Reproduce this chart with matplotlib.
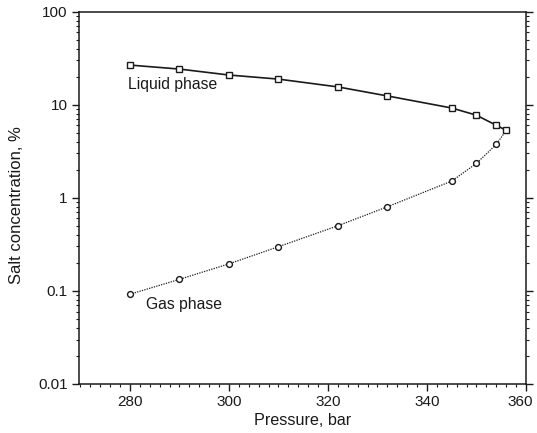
import matplotlib
matplotlib.use("Agg")

import matplotlib.pyplot as plt
import matplotlib.transforms as mtransforms
from matplotlib.ticker import LogLocator, MultipleLocator, FixedLocator, NullFormatter

plt.rcParams["font.family"] = ["Liberation Sans", "DejaVu Sans"]

# liquid phase (squares, solid line)
liquid_p = [280, 290, 300, 310, 322, 332, 345, 350, 354, 356]
liquid_c = [26.6, 24.1, 20.8, 18.8, 15.5, 12.4, 9.2, 7.7, 6.0, 5.3]

# gas phase (circles, dotted line) - meets the liquid curve at 356 bar
gas_p = [280, 290, 300, 310, 322, 332, 345, 350, 354, 356]
gas_c = [0.092, 0.133, 0.195, 0.298, 0.50, 0.80, 1.51, 2.34, 3.74, 5.3]

y_ticks = [0.01, 0.1, 1, 10, 100]
y_tick_labels = ["0.01", "0.1", "1", "10", "100"]
x_ticks = [280, 300, 320, 340, 360]

ink = "#1a1a1a"

fig = plt.figure(figsize=(5.37, 4.33), dpi=100)
ax = fig.add_axes([0.147, 0.1132, 0.8325, 0.8602])

ax.plot(gas_p, gas_c, color=ink, lw=0.9, ls=(0, (1, 1)),
        marker="o", markersize=4.2, markerfacecolor="white",
        markeredgecolor=ink, markeredgewidth=1.0,
        markevery=list(range(len(gas_p) - 1)), zorder=2)
ax.plot(liquid_p, liquid_c, color=ink, lw=1.2,
        marker="s", markersize=5, markerfacecolor="white",
        markeredgecolor=ink, markeredgewidth=1.0, zorder=3)

ax.set_yscale("log")
ax.set_xlim(269.7, 360)
ax.set_ylim(0.01, 100)

ax.xaxis.set_major_locator(FixedLocator(x_ticks))
ax.xaxis.set_minor_locator(MultipleLocator(2))
ax.yaxis.set_major_locator(FixedLocator(y_ticks))
ax.set_yticklabels(y_tick_labels)
ax.yaxis.set_minor_locator(LogLocator(base=10, subs=range(2, 10), numticks=20))
ax.yaxis.set_minor_formatter(NullFormatter())

ax.tick_params(axis="both", which="major", direction="out", length=5, width=1.0,
               color=ink, labelcolor=ink, labelsize=11, pad=3)
ax.tick_params(axis="both", which="minor", direction="out", length=2.5, width=0.8, color=ink)
ax.tick_params(axis="y", which="both", right=True, left=True)
ax.tick_params(axis="x", which="both", top=False)

# nudge the last x label so it stays inside the figure
last = ax.get_xticklabels()[-1]
last.set_transform(last.get_transform()
                   + mtransforms.ScaledTranslation(-4 / 72, 0, fig.dpi_scale_trans))

for side in ["left", "right", "top", "bottom"]:
    ax.spines[side].set_color(ink)
    ax.spines[side].set_linewidth(1.1)

ax.text(279.6, 14.7, "Liquid phase", fontsize=11.3, color=ink, va="baseline")
ax.text(283.2, 0.0637, "Gas phase", fontsize=11.3, color=ink, va="baseline")

ax.set_xlabel("Pressure, bar", fontsize=11.6, color=ink, va="center")
ax.set_ylabel("Salt concentration, %", fontsize=12, color=ink, va="center")
ax.xaxis.set_label_coords(0.5, -0.097)
ax.yaxis.set_label_coords(-0.139, 0.48)

fig.savefig("out.png", dpi=100, facecolor="white")
